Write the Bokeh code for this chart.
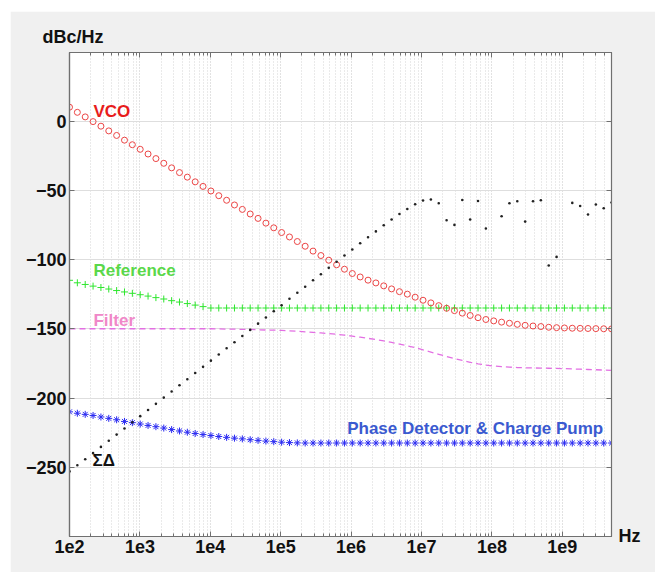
import numpy as np
from bokeh.plotting import figure
from bokeh.models import (Range1d, LogAxis, LinearAxis, FixedTicker, Title,
                          CustomJSTickFormatter, Label, ColumnDataSource)
from bokeh.embed import file_html
from bokeh.resources import INLINE

# ---------------- data ----------------
freq = np.logspace(2, 9.7, 70)  # sampling grid, 70 log-spaced offsets (Hz)

vco = [10.0, 6.3, 3.0, -0.4, -3.7, -7.1, -10.4, -13.8, -17.1, -20.4,
       -23.8, -27.1, -30.5, -33.8, -37.2, -40.5, -43.9, -47.2, -50.5, -53.9,
       -57.2, -60.6, -63.8, -67.1, -70.3, -73.7, -77.1, -80.5, -83.7, -87.0,
       -90.4, -93.9, -97.1, -100.5, -103.8, -107.0, -110.1, -112.6, -114.9, -116.9,
       -119.0, -121.2, -123.2, -125.0, -127.2, -129.4, -131.3, -133.3, -135.2, -136.9,
       -138.7, -140.4, -142.0, -143.3, -144.3, -145.2, -146.0, -146.8, -147.5, -148.0,
       -148.4, -148.9, -149.2, -149.4, -149.6, -149.7, -149.8, -149.9, -150.0, -150.1]

reference = [-115.0, -116.8, -118.0, -119.2, -120.2, -121.3, -122.4, -123.4, -124.4, -125.4,
             -126.4, -127.5, -128.5, -129.7, -130.7, -131.8, -132.9, -134.0, -135.0, -135.0,
             -135.0, -135.0, -135.0, -135.0, -135.0, -135.0, -135.0, -135.0, -135.0, -135.0,
             -135.0, -135.0, -135.0, -135.0, -135.0, -135.0, -135.0, -135.0, -135.0, -135.0,
             -135.0, -135.0, -135.0, -135.0, -135.0, -135.0, -135.0, -135.0, -135.0, -135.0,
             -135.0, -135.0, -135.0, -135.0, -135.0, -135.0, -135.0, -135.0, -135.0, -135.0,
             -135.0, -135.0, -135.0, -135.0, -135.0, -135.0, -135.0, -135.0, -135.0, -135.0]

filt = [-150.0, -150.0, -150.0, -150.0, -150.0, -150.0, -150.0, -150.0, -150.0, -150.0,
        -150.0, -150.0, -150.0, -150.0, -150.0, -150.0, -150.0, -150.0, -150.0, -150.1,
        -150.2, -150.3, -150.4, -150.5, -150.7, -150.9, -151.0, -151.2, -151.5, -151.8,
        -152.2, -152.6, -153.0, -153.5, -154.0, -154.6, -155.3, -156.1, -156.9, -157.8,
        -158.8, -159.9, -161.1, -162.3, -163.6, -165.2, -166.8, -168.4, -170.0, -171.5,
        -172.9, -174.2, -175.3, -176.2, -176.9, -177.4, -177.7, -178.0, -178.2, -178.3,
        -178.4, -178.5, -178.6, -178.8, -179.0, -179.2, -179.4, -179.6, -179.8, -180.0]

pd_cp = [-210.0, -211.0, -211.8, -212.6, -213.7, -214.7, -215.7, -216.9, -217.8, -218.8,
         -219.8, -220.7, -221.7, -222.8, -223.8, -224.7, -225.6, -226.4, -227.1, -227.8,
         -228.4, -229.0, -229.5, -230.1, -230.6, -231.1, -231.5, -231.9, -232.2, -232.4,
         -232.5, -232.5, -232.5, -232.5, -232.5, -232.5, -232.5, -232.5, -232.5, -232.5,
         -232.5, -232.5, -232.5, -232.5, -232.5, -232.5, -232.5, -232.5, -232.5, -232.5,
         -232.5, -232.5, -232.5, -232.5, -232.5, -232.5, -232.5, -232.5, -232.5, -232.5,
         -232.5, -232.5, -232.5, -232.5, -232.5, -232.5, -232.5, -232.5, -232.5, -232.5]

nan = float("nan")
sigma_delta = [-253.0, -248.6, -244.2, -239.8, -235.3, -230.9, -226.4, -222.0, -217.5, -213.1,
               -208.6, -204.2, -199.7, -195.3, -190.8, -186.4, -181.9, -177.5, -173.0, -168.6,
               -164.1, -159.7, -155.2, -150.8, -146.3, -141.9, -137.4, -133.0, -128.3, -124.0,
               -119.6, -115.0, -110.6, -106.0, -101.6, -97.1, -92.7, -88.3, -83.9, -79.7,
               -75.3, -71.1, -67.1, -63.5, -60.1, -57.4, -56.7, -59.4, -71.6, -75.0,
               -57.0, -71.1, -57.7, -77.6, nan, -68.7, -59.4, -57.9, -72.6, -57.9,
               -57.2, -104.3, -98.1, nan, -59.1, -61.3, -67.5, -60.3, -63.0, -58.9]

x_major = [1e2, 1e3, 1e4, 1e5, 1e6, 1e7, 1e8, 1e9]
x_minor = [k * 10.0 ** d for d in range(2, 10) for k in range(2, 10) if k * 10.0 ** d <= 5e9]
y_major = [-250, -200, -150, -100, -50, 0]

src = ColumnDataSource(dict(f=freq, vco=vco, ref=reference, filt=filt,
                            pd=pd_cp, sd=sigma_delta))

FONT = "Liberation Sans"

p = figure(width=645, height=561, x_axis_type="log",
           x_range=Range1d(1e2, 5e9), y_range=Range1d(-300, 49.5),
           output_backend="svg", toolbar_location=None,
           margin=(11, 0, 0, 10),
           min_border_left=59, min_border_right=44,
           min_border_top=41, min_border_bottom=36)

p.title = Title(text="dBc/Hz", align="left", offset=-27, standoff=12,
                text_font=FONT, text_font_style="bold", text_font_size="18px",
                text_color="#111111")

p.background_fill_color = "white"
p.border_fill_color = "#f0f0f0"
p.outline_line_color = "#707070"
p.outline_line_width = 1.2

xt = FixedTicker(ticks=x_major, minor_ticks=x_minor)
yt = FixedTicker(ticks=y_major, minor_ticks=[])

fmt = CustomJSTickFormatter(code="return '1e' + Math.round(Math.log10(tick));")

ax = p.xaxis[0]
ax.ticker = xt
ax.formatter = fmt
ay = p.yaxis[0]
ay.ticker = yt

for a in (ax, ay):
    a.major_label_text_font = FONT
    a.major_label_text_font_style = "bold"
    a.major_label_text_font_size = "18px"
    a.major_label_text_color = "#111111"
    a.major_label_standoff = 3
    a.axis_line_color = "#707070"
    a.axis_line_width = 1.2
    a.major_tick_line_color = "#707070"
    a.minor_tick_line_color = "#707070"
    a.major_tick_in = 5
    a.major_tick_out = 0
    a.minor_tick_in = 3
    a.minor_tick_out = 0

top = LogAxis(ticker=xt, major_label_text_font_size="6px", major_label_text_alpha=0.0,
              major_label_standoff=0,
              axis_line_color="#707070", major_tick_line_color="#707070",
              minor_tick_line_color="#707070", major_tick_in=5, major_tick_out=0,
              minor_tick_in=3, minor_tick_out=0)
p.add_layout(top, "above")

# right axis: inward ticks at the y ticks, plus the "Hz" unit label at the bottom corner
yt_right = FixedTicker(ticks=y_major + [-299.9], minor_ticks=[])
hz_fmt = CustomJSTickFormatter(code="return tick < -299 ? 'Hz' : '';")
right = LinearAxis(ticker=yt_right, formatter=hz_fmt,
                   major_label_text_font=FONT, major_label_text_font_style="bold",
                   major_label_text_font_size="18px", major_label_text_color="#111111",
                   major_label_standoff=7,
                   axis_line_color="#707070", major_tick_line_color="#707070",
                   major_tick_in=5, major_tick_out=0, minor_tick_in=0, minor_tick_out=0)
p.add_layout(right, "right")

p.xgrid.ticker = xt
p.xgrid.grid_line_color = "#c4c4c4"
p.xgrid.grid_line_dash = "1 2"
p.xgrid.minor_grid_line_color = "#d4d4d4"
p.xgrid.minor_grid_line_dash = "1 2"
p.ygrid.ticker = yt
p.ygrid.grid_line_color = "#dedede"
p.ygrid.grid_line_width = 1

# ---------------- series ----------------
p.line("f", "filt", source=src, line_color="#e36fe3", line_width=1.3, line_dash="6 4")
p.scatter("f", "ref", source=src, marker="cross", size=7, line_color="#2ee62e", line_width=1)
p.scatter("f", "vco", source=src, marker="circle", size=6, fill_color=None,
          line_color="#ec4646", line_width=1)
p.scatter("f", "pd", source=src, marker="asterisk", size=7, line_color="#2a2af2", line_width=1)
p.scatter("f", "sd", source=src, marker="circle", size=2.6, fill_color="#222222",
          line_color="#222222", line_width=0)

# ---------------- labels ----------------
def lab(x, y, t, color, size="17px"):
    p.add_layout(Label(x=x, y=y, text=t, text_color=color, text_font=FONT,
                       text_font_style="bold", text_font_size=size,
                       text_align="left", text_baseline="middle"))

lab(219, 6.9, "VCO", "#e81c1c")
lab(219, -107.9, "Reference", "#5ad84a")
lab(219, -144.0, "Filter", "#f088c8")
lab(212, -245.1, "ΣΔ", "#111111")
lab(8.8e5, -222.2, "Phase Detector & Charge Pump", "#3a5ad0")

open("out.html", "w").write(file_html(p, INLINE))
